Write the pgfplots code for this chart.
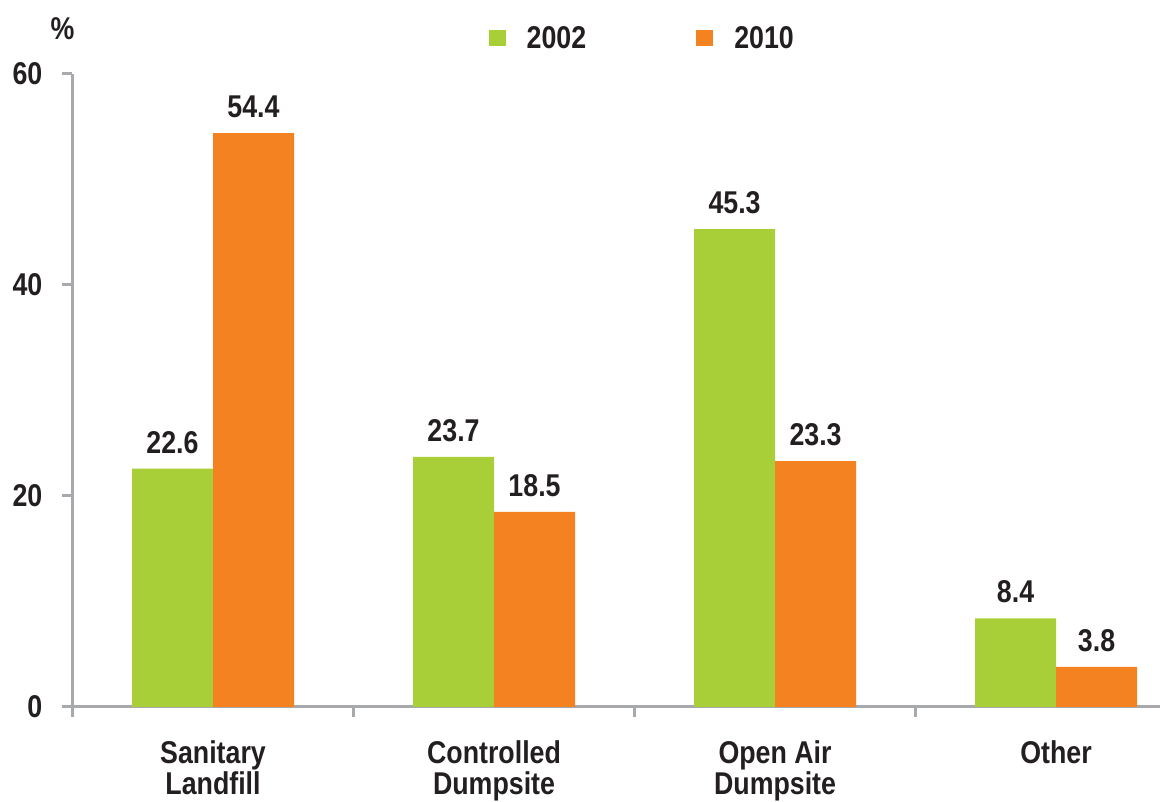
\documentclass[border=0pt]{standalone}
\usepackage{pgfplots}
\pgfplotsset{compat=1.18}
\usepackage{fontspec}
\setmainfont{Liberation Sans}[FakeStretch=0.85]
\definecolor{cgreen}{HTML}{A8CF38}
\definecolor{corange}{HTML}{F58220}
\definecolor{axgray}{HTML}{A7A9AC}
\definecolor{txt}{HTML}{231F20}
\newcommand\lab{\fontsize{31.5}{31}\selectfont\bfseries}
\begin{document}
\begin{tikzpicture}
\begin{axis}[
  scale only axis, width=1087.5pt, height=633pt,
  xmin=-0.5, xmax=3.370, ymin=0, ymax=60,
  ybar=0pt, bar width=81pt,
  axis x line*=bottom, axis y line*=left,
  axis line style={draw=axgray, line width=3pt},
  tick align=outside, major tick length=10pt,
  tick style={draw=axgray, line width=3pt},
  ytick={0,20,40,60}, yticklabels={0,20,40,60},
  xtick={-0.5,0.5,1.5,2.5}, xticklabels={},
  extra x ticks={0,1,2,3},
  extra x tick labels={{Sanitary\\Landfill},{Controlled\\Dumpsite},{Open Air\\Dumpsite},{Other}},
  extra x tick style={major tick length=0pt},
  xticklabel style={align=center, font=\lab, text=txt, inner sep=0pt, anchor=north, yshift=-33pt},
  yticklabel style={font=\lab, text=txt, inner sep=0pt, anchor=east, xshift=-20pt},
  /pgf/number format/.cd, fixed, fixed zerofill, precision=1, assume math mode=true,
  /pgfplots/.cd,
  nodes near coords,
  every node near coord/.append style={font=\lab, text=txt, inner sep=0pt, yshift=15pt},
  ylabel={\%},
  every axis y label/.style={at={(axis description cs:0,1)}, anchor=base, xshift=-10pt, yshift=34pt, inner sep=0pt, font=\lab, text=txt},
  legend columns=2,
  legend style={at={(axis description cs:0.3827,1)}, anchor=west, yshift=36pt, draw=none, fill=none, inner sep=0pt, outer sep=0pt, font=\lab, nodes={inner sep=0pt, text=txt}, /tikz/every odd column/.append style={column sep=21pt}, /tikz/every even column/.append style={column sep=110pt}},
  legend image code/.code={\fill[#1] (0pt,-8pt) rectangle (17pt,8pt);},
]
\addplot[fill=cgreen, draw=none] coordinates {(0,22.6) (1,23.7) (2,45.3) (3,8.4)};
\addplot[fill=corange, draw=none] coordinates {(0,54.4) (1,18.5) (2,23.3) (3,3.8)};
\legend{2002,2010}
\end{axis}
\pgfresetboundingbox
\useasboundingbox (-72.5pt,-95pt) rectangle (1087.5pt,707pt);
\end{tikzpicture}
\end{document}
